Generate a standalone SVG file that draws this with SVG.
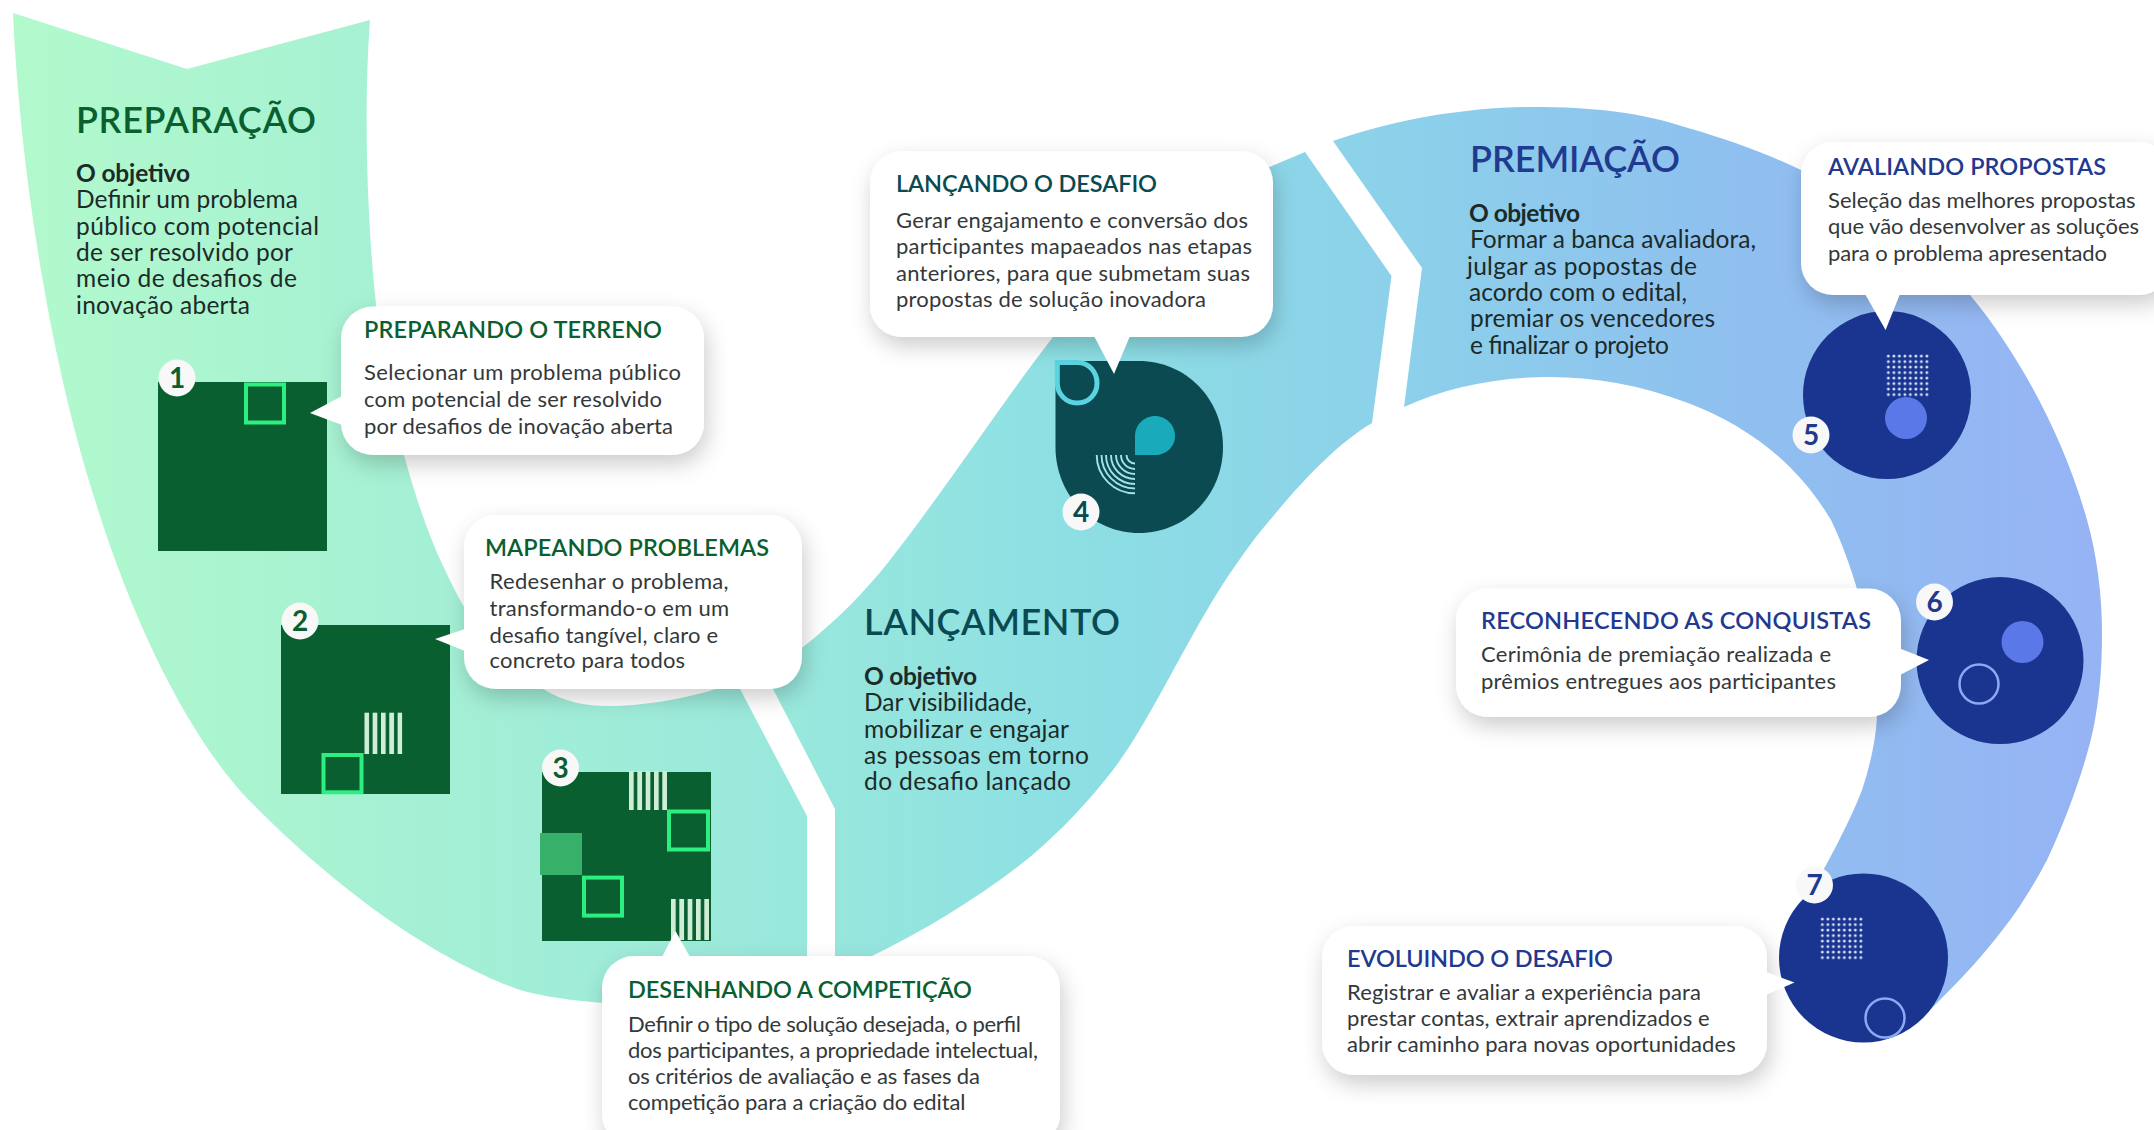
<svg xmlns="http://www.w3.org/2000/svg" width="2154" height="1130" viewBox="0 0 2154 1130">
<style>
text{font-family:"Lato","Open Sans","Liberation Sans",sans-serif}
.h{font-size:36px;font-weight:600}
.o{font-size:24.5px;font-weight:700;fill:#1c2a28}
.m{font-size:24.5px;fill:#1c2a28}
.t{font-size:23.5px;font-weight:600}
.b{font-size:22px;fill:#33383a}
.g{fill:#0a5f30}.e{fill:#0a4a52}.u{fill:#1f3a8f}
.card{fill:#fff;filter:url(#sh)}
.sq{fill:#0a5f30}
.ol{fill:none;stroke:#2dee80;stroke-width:4}
.bar{fill:url(#bars)}
.bdg{fill:#f8f8f8}
.n{font-size:28px;font-weight:700;text-anchor:middle}
.ci{fill:#1a3590}
.bl{fill:#5a78e8}
.ring{fill:none;stroke:#8fa8f5;stroke-width:2.5}
.dots{fill:url(#dots)}
.dots7{fill:url(#dots7)}
.ptr{fill:#fff}
</style>
<defs>
<linearGradient id="band" gradientUnits="userSpaceOnUse" x1="13" y1="0" x2="2102" y2="0">
<stop offset="0" stop-color="#b2f9cc"/>
<stop offset="0.37" stop-color="#99e8dc"/>
<stop offset="0.52" stop-color="#8cdee4"/>
<stop offset="0.66" stop-color="#8cd1ea"/>
<stop offset="0.82" stop-color="#8fc0ef"/>
<stop offset="1" stop-color="#96b3f4"/>
</linearGradient>
<filter id="sh" x="-15%" y="-15%" width="130%" height="140%">
<feDropShadow dx="3" dy="9" stdDeviation="11" flood-color="#000" flood-opacity="0.2"/>
</filter>
<pattern id="bars" width="8.33" height="10" patternUnits="userSpaceOnUse" x="0" y="0">
<rect width="4.7" height="10" fill="#cfeed8"/>
</pattern>
<pattern id="dots" width="5.5" height="5.5" patternUnits="userSpaceOnUse" x="1885.6" y="353.3">
<circle cx="2.75" cy="2.75" r="1.45" fill="#dfe7fb"/>
</pattern>
<pattern id="dots7" width="5.5" height="5.5" patternUnits="userSpaceOnUse" x="1819.6" y="916.3">
<circle cx="2.75" cy="2.75" r="1.45" fill="#dfe7fb"/>
</pattern>
</defs>

<g id="bands">
<path id="band-preparacao" fill="url(#band)" d="M13,13 L187,69 L370,20 C364,100 366,210 376,305 C384,370 395,420 404,455 C415,495 428,535 445,570 C470,625 500,665 543,689 C565,702 585,706 608,706 C640,706 680,700 716,689 L735,680 L740,689 L807,816 L807,1010 L602,1003 C570,1000 545,997 520,990 C450,965 350,905 243,794 C190,735 135,630 95,500 C50,360 20,170 13,13 Z"/>
<path id="band-lancamento" fill="url(#band)" d="M745,676 L773,689 L835,809 L835,960 L870,957 C925,930 980,897 1030,857 C1060,832 1090,800 1113,770 C1140,735 1170,675 1190,640 C1200,622 1207,610 1213,600 C1225,580 1240,558 1256,537 C1290,495 1330,448 1372,423 L1391.5,276 L1305,152 L1267,168 C1175,210 1105,270 1053,337 C1000,405 945,490 890,560 C865,592 835,622 803,647 Z"/>
<path id="band-premiacao" fill="url(#band)" d="M1333,141 C1400,118 1470,107 1535,107 C1590,107 1640,112 1688,128 C1730,140 1770,155 1801,170 C1880,210 1930,245 1970,295 C2020,355 2065,440 2087,520 C2097,555 2102,595 2102,634 C2102,665 2100,692 2095,720 C2088,760 2066,820 2047,860 C2030,892 2015,915 1997,937 C1975,965 1950,990 1930,1010 L1905,1030 L1815,885 C1838,845 1857,805 1863,787 C1870,765 1876,740 1877,716 C1878,650 1855,570 1831,520 C1795,460 1745,425 1688,403 C1640,385 1595,377 1549,377 C1495,377 1445,388 1404,407 L1422,268 Z"/>
</g>

<g id="heading-preparacao">
<text class="h g" x="76" y="133" textLength="240">PREPARAÇÃO</text>
<text class="o" x="76" y="182" textLength="114">O objetivo</text>
<text class="m" x="76" y="208" textLength="222">Definir um problema</text>
<text class="m" x="76" y="234.5" textLength="243">público com potencial</text>
<text class="m" x="76" y="261" textLength="217">de ser resolvido por</text>
<text class="m" x="76" y="287" textLength="221">meio de desafios de</text>
<text class="m" x="76" y="313.5" textLength="174">inovação aberta</text>
</g>
<g id="heading-lancamento">
<text class="h e" x="864" y="635" textLength="256">LANÇAMENTO</text>
<text class="o" x="864" y="685" textLength="113">O objetivo</text>
<text class="m" x="864" y="711" textLength="168">Dar visibilidade,</text>
<text class="m" x="864" y="737.5" textLength="205">mobilizar e engajar</text>
<text class="m" x="864" y="763.6" textLength="225">as pessoas em torno</text>
<text class="m" x="864" y="790" textLength="207">do desafio lançado</text>
</g>
<g id="heading-premiacao">
<text class="h u" x="1470" y="172" textLength="210">PREMIAÇÃO</text>
<text class="o" x="1469" y="221.7" textLength="111">O objetivo</text>
<text class="m" x="1470" y="248" textLength="286">Formar a banca avaliadora,</text>
<text class="m" x="1467" y="275" textLength="230">julgar as popostas de</text>
<text class="m" x="1469" y="301" textLength="218">acordo com o edital,</text>
<text class="m" x="1470" y="326.7" textLength="245">premiar os vencedores</text>
<text class="m" x="1470" y="354" textLength="199">e finalizar o projeto</text>
</g>

<g id="node-1">
<rect class="sq" x="158" y="382" width="169" height="169"/>
<rect class="ol" x="246" y="384.5" width="38" height="38"/>
<circle class="bdg" cx="177" cy="378" r="18.5"/>
<text class="n g" x="177" y="388">1</text>
<rect class="card" x="341" y="306.5" width="363" height="148.5" rx="32"/>
<text class="t g" x="364" y="338" textLength="298">PREPARANDO O TERRENO</text>
<text class="b" x="364" y="380" textLength="317">Selecionar um problema público</text>
<text class="b" x="364" y="407" textLength="298">com potencial de ser resolvido</text>
<text class="b" x="364" y="433.5" textLength="309">por desafios de inovação aberta</text>
</g>

<g id="node-2">
<rect class="sq" x="281" y="625" width="169" height="169"/>
<g transform="translate(364.3 712.7)"><rect class="bar" width="38" height="41.3"/></g>
<rect class="ol" x="323.5" y="755" width="38" height="37.3"/>
<circle class="bdg" cx="300" cy="621" r="18.5"/>
<text class="n g" x="300" y="631">2</text>
<rect class="card" x="464" y="515" width="338" height="174" rx="32"/>
<text class="t g" x="485" y="556" textLength="284">MAPEANDO PROBLEMAS</text>
<text class="b" x="489.6" y="589" textLength="239">Redesenhar o problema,</text>
<text class="b" x="489.6" y="616" textLength="239.5">transformando-o em um</text>
<text class="b" x="489.6" y="642.5" textLength="228.5">desafio tangível, claro e</text>
<text class="b" x="489.6" y="668" textLength="195.5">concreto para todos</text>
</g>

<g id="node-3">
<rect class="sq" x="542" y="772" width="169" height="169"/>
<g transform="translate(629 771)"><rect class="bar" width="38" height="39"/></g>
<rect class="ol" x="669" y="811.5" width="39" height="38"/>
<rect x="540" y="833" width="42" height="42" fill="#37b06a"/>
<rect class="ol" x="584" y="877.6" width="38" height="38"/>
<g transform="translate(671 899)"><rect class="bar" width="38" height="41"/></g>
<circle class="bdg" cx="560.5" cy="768" r="18.5"/>
<text class="n g" x="560.5" y="778">3</text>
<rect class="card" x="602" y="956" width="458" height="190" rx="32"/>
<text class="t g" x="628" y="997.5" textLength="344">DESENHANDO A COMPETIÇÃO</text>
<text class="b" x="628" y="1031.6" textLength="393">Definir o tipo de solução desejada, o perfil</text>
<text class="b" x="628" y="1057.5" textLength="410">dos participantes, a propriedade intelectual,</text>
<text class="b" x="628" y="1083.6" textLength="352">os critérios de avaliação e as fases da</text>
<text class="b" x="628" y="1110" textLength="337.5">competição para a criação do edital</text>
</g>

<g id="node-4">
<path fill="#0a4a50" d="M1055.5,361 H1139 C1186,361 1223,399 1223,447 C1223,495 1186,533 1139,533 C1092,533 1055.5,495 1055.5,447 Z"/>
<path fill="none" stroke="#5ad4e0" stroke-width="5" d="M1057.3,362.5 H1077 C1089,362.5 1097,372 1097,383 C1097,394 1089,403 1077,403 C1066,403 1057.3,394 1057.3,383 Z"/>
<path fill="#19abbb" d="M1135,455 V436 C1135,425 1144,416 1155,416 C1166,416 1175,425 1175,436 C1175,447 1166,455 1155,455 Z"/>
<g fill="none" stroke="#a0e4e8" stroke-width="1.9">
<path d="M1096.7,455 A38.3,38.3 0 0 0 1135,493.3"/>
<path d="M1101.5,455 A33.5,33.5 0 0 0 1135,488.5"/>
<path d="M1106,455 A29,29 0 0 0 1135,484"/>
<path d="M1111,455 A24,24 0 0 0 1135,479"/>
<path d="M1116,455 A19,19 0 0 0 1135,474"/>
<path d="M1121,455 A14,14 0 0 0 1135,469"/>
<path d="M1126.5,455 A8.5,8.5 0 0 0 1135,463.5"/>
</g>
<circle class="bdg" cx="1081" cy="512" r="18.5"/>
<text class="n e" x="1081" y="522">4</text>
<rect class="card" x="870" y="151" width="403" height="186" rx="32"/>
<text class="t e" x="896" y="191.7" textLength="261">LANÇANDO O DESAFIO</text>
<text class="b" x="896" y="228" textLength="352">Gerar engajamento e conversão dos</text>
<text class="b" x="896" y="254" textLength="356">participantes mapaeados nas etapas</text>
<text class="b" x="896" y="280.7" textLength="354">anteriores, para que submetam suas</text>
<text class="b" x="896" y="307" textLength="310">propostas de solução inovadora</text>
</g>

<g id="node-5">
<circle class="ci" cx="1887" cy="395" r="84"/>
<rect class="dots" x="1885.6" y="353.3" width="44" height="44"/>
<circle class="bl" cx="1906" cy="418" r="21"/>
<circle class="bdg" cx="1811" cy="435" r="18.5"/>
<text class="n u" x="1811" y="445">5</text>
<rect class="card" x="1801" y="142" width="370" height="153" rx="32"/>
<text class="t u" x="1828" y="175" textLength="278">AVALIANDO PROPOSTAS</text>
<text class="b" x="1828" y="208" textLength="307.6">Seleção das melhores propostas</text>
<text class="b" x="1828" y="234" textLength="311">que vão desenvolver as soluções</text>
<text class="b" x="1828" y="261" textLength="279">para o problema apresentado</text>
</g>

<g id="node-6">
<circle class="ci" cx="2000" cy="660.6" r="83.5"/>
<circle class="bl" cx="2022.5" cy="642" r="21"/>
<circle class="ring" cx="1979" cy="684" r="19.5"/>
<circle class="bdg" cx="1934.5" cy="602" r="18.5"/>
<text class="n u" x="1934.5" y="612">6</text>
<rect class="card" x="1456" y="588.6" width="445" height="128.4" rx="32"/>
<text class="t u" x="1481" y="629" textLength="390">RECONHECENDO AS CONQUISTAS</text>
<text class="b" x="1481" y="662" textLength="350">Cerimônia de premiação realizada e</text>
<text class="b" x="1481" y="688.6" textLength="355">prêmios entregues aos participantes</text>
</g>

<g id="node-7">
<circle class="ci" cx="1863.5" cy="958" r="84.5"/>
<rect class="dots7" x="1819.6" y="916.3" width="44" height="44"/>
<circle class="ring" cx="1885" cy="1018" r="19.5"/>
<circle class="bdg" cx="1814.5" cy="885" r="18.5"/>
<text class="n u" x="1814.5" y="895">7</text>
<rect class="card" x="1322" y="926" width="445" height="149" rx="32"/>
<text class="t u" x="1347" y="967" textLength="266">EVOLUINDO O DESAFIO</text>
<text class="b" x="1347" y="1000" textLength="354">Registrar e avaliar a experiência para</text>
<text class="b" x="1347" y="1026" textLength="362.6">prestar contas, extrair aprendizados e</text>
<text class="b" x="1347" y="1052" textLength="388.7">abrir caminho para novas oportunidades</text>
</g>

<g id="connectors">
<polygon class="ptr" points="310,413 342,396 342,425"/>
<polygon class="ptr" points="435,639 465,629 465,651"/>
<polygon class="ptr" points="675.5,931 662,957 690,957"/>
<polygon class="ptr" points="1114,374 1094,336 1130,336"/>
<polygon class="ptr" points="1885.6,330 1865,294 1900,294"/>
<polygon class="ptr" points="1929,660 1900,648.6 1900,675"/>
<polygon class="ptr" points="1794.5,982.5 1766,972 1766,995"/>
</g>
</svg>
